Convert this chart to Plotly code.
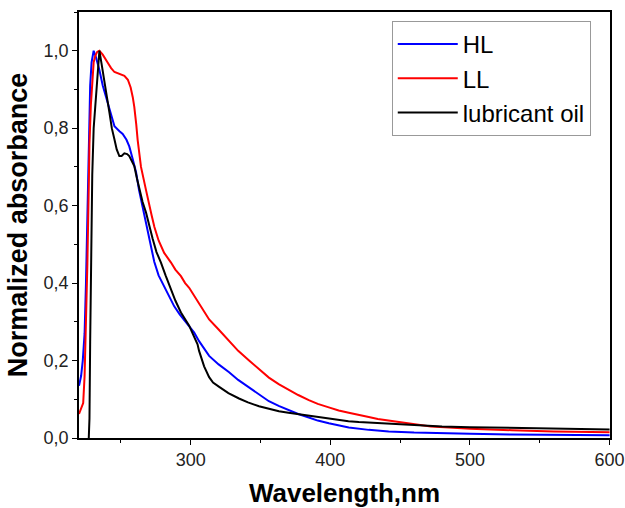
import plotly.graph_objects as go

# ---- data ----
hl_x = [220, 221.5, 222.7, 224, 225, 226, 227, 228, 229, 230.5, 232, 234.6, 237, 240.6,
        245.4, 249, 251.3, 254, 256, 258.5, 260.9, 263, 265.6, 268, 270, 273.9, 277, 281,
        285, 288.2, 292, 295.4, 298.9, 302.5, 306, 309.6, 313.2, 320, 327.5, 334, 341.8,
        349, 356, 363, 370.4, 377, 384.6, 391, 398.9, 406, 413.2, 427.5, 441.8, 460,
        480, 500, 530, 560, 600]
hl_y = [0.135, 0.16, 0.20, 0.27, 0.40, 0.60, 0.80, 0.91, 0.97, 1.0, 0.985, 0.95, 0.91, 0.865,
        0.805, 0.792, 0.785, 0.77, 0.753, 0.72, 0.686, 0.64, 0.595, 0.55, 0.52, 0.455, 0.42, 0.39,
        0.36, 0.34, 0.32, 0.305, 0.289, 0.272, 0.25, 0.231, 0.212, 0.19, 0.17, 0.15, 0.13,
        0.112, 0.095, 0.083, 0.072, 0.062, 0.053, 0.045, 0.038, 0.032, 0.027, 0.021, 0.017, 0.014,
        0.012, 0.011, 0.009, 0.008, 0.007]

ll_x = [220, 221.5, 223, 224, 225, 226, 227, 227.5, 228.5, 229.5, 230.5, 231.6, 233, 234.6,
        237, 240.6, 243, 245.4, 249, 252.5, 255, 257, 258.5, 259.6, 261, 262, 264.4, 266, 268,
        272, 274, 277, 281, 285.9, 289, 293, 296, 298.9, 302, 306, 309.6, 313.2, 320, 327.5,
        334, 341.8, 349, 356, 363, 370.4, 377, 384.6, 391, 398.9, 406, 413.2, 420, 427.5,
        434, 441.8, 449, 460, 472, 485, 500, 530, 560, 600]
ll_y = [0.062, 0.075, 0.09, 0.16, 0.28, 0.45, 0.65, 0.76, 0.86, 0.93, 0.97, 0.986, 0.997, 1.0,
        0.99, 0.969, 0.955, 0.945, 0.94, 0.935, 0.925, 0.905, 0.88, 0.855, 0.81, 0.77, 0.70, 0.67, 0.64,
        0.575, 0.545, 0.51, 0.478, 0.453, 0.435, 0.418, 0.40, 0.388, 0.37, 0.345, 0.324, 0.306, 0.28, 0.25,
        0.225, 0.2, 0.177, 0.156, 0.139, 0.124, 0.111, 0.098, 0.088, 0.079, 0.071, 0.065, 0.059, 0.054,
        0.049, 0.045, 0.041, 0.035, 0.03, 0.027, 0.024, 0.02, 0.017, 0.015]

oil_x = [227, 227.5, 228, 228.7, 229.5, 230.5, 231.6, 233, 234.6, 236, 238.2, 240, 241.8, 243.5,
         245.4, 247, 248.9, 250.5, 252.5, 254.5, 256, 258, 259.6, 261.5, 263.2, 265.5, 268, 270.4,
         272.7, 275.5, 278.7, 282, 285.9, 289, 293, 296, 298.9, 302, 304.9, 306, 309.6, 313.2, 316,
         320.4, 327, 334.6, 341, 348.9, 356, 363.2, 370, 377.5, 384.6, 391.8, 399, 406, 413, 420.4,
         430, 441.8, 460, 480, 500, 530, 560, 600]
oil_y = [0.0, 0.05, 0.25, 0.52, 0.68, 0.80, 0.857, 0.93, 1.0, 0.97, 0.926, 0.88, 0.84, 0.80,
         0.771, 0.745, 0.728, 0.728, 0.735, 0.733, 0.728, 0.715, 0.702, 0.67, 0.642, 0.61, 0.582, 0.545,
         0.515, 0.48, 0.453, 0.42, 0.384, 0.355, 0.324, 0.305, 0.29, 0.265, 0.242, 0.225, 0.185, 0.157, 0.143,
         0.132, 0.116, 0.102, 0.092, 0.082, 0.075, 0.069, 0.065, 0.061, 0.057, 0.053, 0.05, 0.046, 0.043, 0.041,
         0.039, 0.037, 0.033, 0.03, 0.028, 0.026, 0.024, 0.022]

series = [
    ("HL", hl_x, hl_y, "#0000FF"),
    ("LL", ll_x, ll_y, "#FF0000"),
    ("lubricant oil", oil_x, oil_y, "#000000"),
]

FONT = "Liberation Sans, Arial, sans-serif"

fig = go.Figure()
for name, xs, ys, col in series:
    fig.add_trace(go.Scatter(x=xs, y=ys, mode="lines", name=name,
                             line=dict(color=col, width=2)))

axis_common = dict(
    showline=True, linecolor="black", linewidth=1.6, mirror=True,
    ticks="outside", ticklen=5, tickwidth=1.4, tickcolor="black",
    showgrid=False, zeroline=False,
    tickfont=dict(family=FONT, size=18, color="#222"),
    ticklabeloverflow="allow",
)

fig.update_layout(
    width=625, height=508,
    margin=dict(l=79, r=15, t=12, b=70),
    paper_bgcolor="white", plot_bgcolor="white",
    separators=",.",
    font=dict(family=FONT),
    showlegend=True,
    legend=dict(
        x=0.589, y=0.979, xanchor="left", yanchor="top",
        bordercolor="#999999", borderwidth=1, bgcolor="white",
        font=dict(family=FONT, size=24, color="black"),
        itemwidth=60, tracegroupgap=0,
    ),
    xaxis=dict(
        range=[220, 600.3], dtick=100, tick0=0,
        minor=dict(dtick=50, tick0=0, ticks="outside", ticklen=3, tickwidth=1.2, tickcolor="black", showgrid=False),
        title=dict(text="<b>Wavelength,nm</b>", font=dict(family=FONT, size=26, color="black"), standoff=19),
        automargin=False,
        **axis_common,
    ),
    yaxis=dict(
        range=[0, 1.1], dtick=0.2, tick0=0, tickformat=".1f",
        minor=dict(dtick=0.1, tick0=0, ticks="outside", ticklen=3, tickwidth=1.2, tickcolor="black", showgrid=False),
        title=dict(text="<b>Normalized absorbance</b>", font=dict(family=FONT, size=27, color="black"), standoff=8),
        automargin=False,
        **axis_common,
    ),
)

fig.write_html("out.html")
